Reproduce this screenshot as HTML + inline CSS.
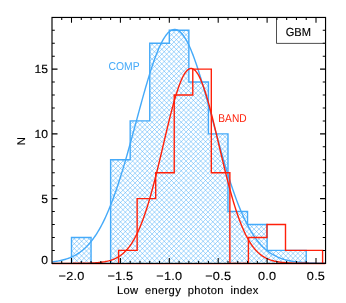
<!DOCTYPE html>
<html><head><meta charset="utf-8"><title>plot</title><style>html,body{margin:0;padding:0;background:#fff;overflow:hidden}text{font-family:"Liberation Sans",sans-serif;text-rendering:geometricPrecision;stroke-width:0.14px}text.k{stroke:#000}</style></head><body>
<svg width="346" height="303" viewBox="0 0 346 303" style="display:block;will-change:transform">
<defs><clipPath id="clip"><rect x="52.0" y="17.45" width="273.55" height="247.45"/></clipPath><clipPath id="hclip"><path d="M71.50,263.35 L71.50,237.45 L91.06,237.45 L91.06,263.35 L110.62,263.35 L110.62,159.75 L130.18,159.75 L130.18,120.90 L149.74,120.90 L149.74,43.20 L169.30,43.20 L169.30,30.25 L188.86,30.25 L188.86,82.05 L208.42,82.05 L208.42,133.85 L227.98,133.85 L227.98,211.55 L247.54,211.55 L247.54,224.50 L267.10,224.50 L267.10,250.40 L286.66,250.40 L286.66,250.40 L306.22,250.40 L306.22,263.35 Z"/></clipPath></defs>
<rect width="346" height="303" fill="#fff"/>
<g clip-path="url(#hclip)"><path d="M70,-207.72L308,30.28M70,-202.86L308,35.14M70,-198.00L308,40.00M70,-193.14L308,44.86M70,-188.28L308,49.72M70,-183.42L308,54.58M70,-178.56L308,59.44M70,-173.70L308,64.30M70,-168.84L308,69.16M70,-163.98L308,74.02M70,-159.12L308,78.88M70,-154.26L308,83.74M70,-149.40L308,88.60M70,-144.54L308,93.46M70,-139.68L308,98.32M70,-134.82L308,103.18M70,-129.96L308,108.04M70,-125.10L308,112.90M70,-120.24L308,117.76M70,-115.38L308,122.62M70,-110.52L308,127.48M70,-105.66L308,132.34M70,-100.80L308,137.20M70,-95.94L308,142.06M70,-91.08L308,146.92M70,-86.22L308,151.78M70,-81.36L308,156.64M70,-76.50L308,161.50M70,-71.64L308,166.36M70,-66.78L308,171.22M70,-61.92L308,176.08M70,-57.06L308,180.94M70,-52.20L308,185.80M70,-47.34L308,190.66M70,-42.48L308,195.52M70,-37.62L308,200.38M70,-32.76L308,205.24M70,-27.90L308,210.10M70,-23.04L308,214.96M70,-18.18L308,219.82M70,-13.32L308,224.68M70,-8.46L308,229.54M70,-3.60L308,234.40M70,1.26L308,239.26M70,6.12L308,244.12M70,10.98L308,248.98M70,15.84L308,253.84M70,20.70L308,258.70M70,25.56L308,263.56M70,30.42L308,268.42M70,35.28L308,273.28M70,40.14L308,278.14M70,45.00L308,283.00M70,49.86L308,287.86M70,54.72L308,292.72M70,59.58L308,297.58M70,64.44L308,302.44M70,69.30L308,307.30M70,74.16L308,312.16M70,79.02L308,317.02M70,83.88L308,321.88M70,88.74L308,326.74M70,93.60L308,331.60M70,98.46L308,336.46M70,103.32L308,341.32M70,108.18L308,346.18M70,113.04L308,351.04M70,117.90L308,355.90M70,122.76L308,360.76M70,127.62L308,365.62M70,132.48L308,370.48M70,137.34L308,375.34M70,142.20L308,380.20M70,147.06L308,385.06M70,151.92L308,389.92M70,156.78L308,394.78M70,161.64L308,399.64M70,166.50L308,404.50M70,171.36L308,409.36M70,176.22L308,414.22M70,181.08L308,419.08M70,185.94L308,423.94M70,190.80L308,428.80M70,195.66L308,433.66M70,200.52L308,438.52M70,205.38L308,443.38M70,210.24L308,448.24M70,215.10L308,453.10M70,219.96L308,457.96M70,224.82L308,462.82M70,229.68L308,467.68M70,234.54L308,472.54M70,239.40L308,477.40M70,244.26L308,482.26M70,249.12L308,487.12M70,253.98L308,491.98M70,258.84L308,496.84M70,263.70L308,501.70M70,29.32L308,-208.68M70,34.18L308,-203.82M70,39.04L308,-198.96M70,43.90L308,-194.10M70,48.76L308,-189.24M70,53.62L308,-184.38M70,58.48L308,-179.52M70,63.34L308,-174.66M70,68.20L308,-169.80M70,73.06L308,-164.94M70,77.92L308,-160.08M70,82.78L308,-155.22M70,87.64L308,-150.36M70,92.50L308,-145.50M70,97.36L308,-140.64M70,102.22L308,-135.78M70,107.08L308,-130.92M70,111.94L308,-126.06M70,116.80L308,-121.20M70,121.66L308,-116.34M70,126.52L308,-111.48M70,131.38L308,-106.62M70,136.24L308,-101.76M70,141.10L308,-96.90M70,145.96L308,-92.04M70,150.82L308,-87.18M70,155.68L308,-82.32M70,160.54L308,-77.46M70,165.40L308,-72.60M70,170.26L308,-67.74M70,175.12L308,-62.88M70,179.98L308,-58.02M70,184.84L308,-53.16M70,189.70L308,-48.30M70,194.56L308,-43.44M70,199.42L308,-38.58M70,204.28L308,-33.72M70,209.14L308,-28.86M70,214.00L308,-24.00M70,218.86L308,-19.14M70,223.72L308,-14.28M70,228.58L308,-9.42M70,233.44L308,-4.56M70,238.30L308,0.30M70,243.16L308,5.16M70,248.02L308,10.02M70,252.88L308,14.88M70,257.74L308,19.74M70,262.60L308,24.60M70,267.46L308,29.46M70,272.32L308,34.32M70,277.18L308,39.18M70,282.04L308,44.04M70,286.90L308,48.90M70,291.76L308,53.76M70,296.62L308,58.62M70,301.48L308,63.48M70,306.34L308,68.34M70,311.20L308,73.20M70,316.06L308,78.06M70,320.92L308,82.92M70,325.78L308,87.78M70,330.64L308,92.64M70,335.50L308,97.50M70,340.36L308,102.36M70,345.22L308,107.22M70,350.08L308,112.08M70,354.94L308,116.94M70,359.80L308,121.80M70,364.66L308,126.66M70,369.52L308,131.52M70,374.38L308,136.38M70,379.24L308,141.24M70,384.10L308,146.10M70,388.96L308,150.96M70,393.82L308,155.82M70,398.68L308,160.68M70,403.54L308,165.54M70,408.40L308,170.40M70,413.26L308,175.26M70,418.12L308,180.12M70,422.98L308,184.98M70,427.84L308,189.84M70,432.70L308,194.70M70,437.56L308,199.56M70,442.42L308,204.42M70,447.28L308,209.28M70,452.14L308,214.14M70,457.00L308,219.00M70,461.86L308,223.86M70,466.72L308,228.72M70,471.58L308,233.58M70,476.44L308,238.44M70,481.30L308,243.30M70,486.16L308,248.16M70,491.02L308,253.02M70,495.88L308,257.88M70,500.74L308,262.74" stroke="#45aaf9" stroke-width="0.5" fill="none"/></g>
<g clip-path="url(#clip)">
<path d="M71.50,263.35 L71.50,237.45 L91.06,237.45 L91.06,263.35 L110.62,263.35 L110.62,159.75 L130.18,159.75 L130.18,120.90 L149.74,120.90 L149.74,43.20 L169.30,43.20 L169.30,30.25 L188.86,30.25 L188.86,82.05 L208.42,82.05 L208.42,133.85 L227.98,133.85 L227.98,211.55 L247.54,211.55 L247.54,224.50 L267.10,224.50 L267.10,250.40 L286.66,250.40 L286.66,250.40 L306.22,250.40 L306.22,263.35" fill="none" stroke="#45aaf9" stroke-width="1.4" stroke-linejoin="miter"/>
<polyline points="51.94,261.95 52.92,261.83 53.90,261.70 54.87,261.56 55.85,261.42 56.83,261.26 57.81,261.09 58.79,260.91 59.76,260.71 60.74,260.50 61.72,260.28 62.70,260.04 63.68,259.79 64.65,259.52 65.63,259.23 66.61,258.92 67.59,258.59 68.57,258.24 69.54,257.87 70.52,257.47 71.50,257.05 72.48,256.61 73.46,256.14 74.43,255.64 75.41,255.11 76.39,254.55 77.37,253.96 78.35,253.33 79.32,252.67 80.30,251.98 81.28,251.25 82.26,250.48 83.24,249.67 84.21,248.81 85.19,247.92 86.17,246.98 87.15,245.99 88.13,244.96 89.10,243.87 90.08,242.74 91.06,241.55 92.04,240.32 93.02,239.02 93.99,237.68 94.97,236.27 95.95,234.81 96.93,233.28 97.91,231.70 98.88,230.05 99.86,228.34 100.84,226.57 101.82,224.73 102.80,222.83 103.77,220.86 104.75,218.83 105.73,216.73 106.71,214.56 107.69,212.32 108.66,210.01 109.64,207.64 110.62,205.20 111.60,202.69 112.58,200.11 113.55,197.47 114.53,194.76 115.51,191.99 116.49,189.15 117.47,186.25 118.44,183.29 119.42,180.27 120.40,177.20 121.38,174.06 122.36,170.87 123.33,167.64 124.31,164.35 125.29,161.01 126.27,157.64 127.25,154.22 128.22,150.76 129.20,147.27 130.18,143.75 131.16,140.21 132.14,136.64 133.11,133.05 134.09,129.45 135.07,125.84 136.05,122.22 137.03,118.60 138.00,114.99 138.98,111.38 139.96,107.79 140.94,104.22 141.92,100.67 142.89,97.15 143.87,93.66 144.85,90.21 145.83,86.81 146.81,83.46 147.78,80.16 148.76,76.93 149.74,73.76 150.72,70.66 151.70,67.64 152.67,64.70 153.65,61.85 154.63,59.09 155.61,56.43 156.59,53.87 157.56,51.41 158.54,49.07 159.52,46.84 160.50,44.73 161.48,42.75 162.45,40.89 163.43,39.16 164.41,37.56 165.39,36.10 166.37,34.78 167.34,33.60 168.32,32.57 169.30,31.68 170.28,30.94 171.26,30.35 172.23,29.91 173.21,29.62 174.19,29.49 175.17,29.50 176.15,29.67 177.12,29.99 178.10,30.46 179.08,31.08 180.06,31.85 181.04,32.76 182.01,33.83 182.99,35.03 183.97,36.38 184.95,37.87 185.93,39.49 186.90,41.25 187.88,43.13 188.86,45.14 189.84,47.28 190.82,49.53 191.79,51.90 192.77,54.37 193.75,56.95 194.73,59.64 195.71,62.41 196.68,65.28 197.66,68.24 198.64,71.28 199.62,74.39 200.60,77.57 201.57,80.82 202.55,84.12 203.53,87.49 204.51,90.90 205.49,94.35 206.46,97.85 207.44,101.37 208.42,104.93 209.40,108.51 210.38,112.10 211.35,115.71 212.33,119.33 213.31,122.94 214.29,126.56 215.27,130.17 216.24,133.77 217.22,137.35 218.20,140.92 219.18,144.46 220.16,147.97 221.13,151.46 222.11,154.90 223.09,158.31 224.07,161.68 225.05,165.01 226.02,168.29 227.00,171.52 227.98,174.69 228.96,177.82 229.94,180.88 230.91,183.89 231.89,186.84 232.87,189.73 233.85,192.55 234.83,195.31 235.80,198.00 236.78,200.63 237.76,203.20 238.74,205.69 239.72,208.12 240.69,210.48 241.67,212.77 242.65,214.99 243.63,217.15 244.61,219.24 245.58,221.26 246.56,223.22 247.54,225.11 248.52,226.93 249.50,228.69 250.47,230.39 251.45,232.02 252.43,233.59 253.41,235.10 254.39,236.56 255.36,237.95 256.34,239.29 257.32,240.57 258.30,241.80 259.28,242.97 260.25,244.09 261.23,245.17 262.21,246.19 263.19,247.17 264.17,248.10 265.14,248.99 266.12,249.83 267.10,250.63 268.08,251.40 269.06,252.12 270.03,252.81 271.01,253.46 271.99,254.08 272.97,254.66 273.95,255.22 274.92,255.74 275.90,256.23 276.88,256.70 277.86,257.14 278.84,257.55 279.81,257.94 280.79,258.31 281.77,258.66 282.75,258.98 283.73,259.29 284.70,259.57 285.68,259.84 286.66,260.09 287.64,260.33 288.62,260.55 289.59,260.75 290.57,260.94 291.55,261.12 292.53,261.29 293.51,261.45 294.48,261.59 295.46,261.73 296.44,261.85 297.42,261.97 298.40,262.08 299.37,262.18 300.35,262.27 301.33,262.36 302.31,262.44 303.29,262.52 304.26,262.58 305.24,262.65 306.22,262.71 307.20,262.76 308.18,262.81 309.15,262.86 310.13,262.90 311.11,262.94 312.09,262.97 313.07,263.01 314.04,263.04 315.02,263.06 316.00,263.09 316.98,263.11 317.96,263.14 318.93,263.15 319.91,263.17 320.89,263.19 321.87,263.20 322.85,263.22 323.82,263.23 324.80,263.24 325.78,263.25" fill="none" stroke="#45aaf9" stroke-width="1.4" stroke-linejoin="round"/>
<path d="M118.60,263.35 L118.60,250.40 L137.14,250.40 L137.14,198.60 L155.69,198.60 L155.69,172.70 L174.24,172.70 L174.24,95.00 L192.78,95.00 L192.78,69.10 L211.32,69.10 L211.32,172.70 L229.87,172.70 L229.87,263.35 L248.41,263.35 L248.41,237.45 L266.96,237.45 L266.96,224.50 L285.50,224.50 L285.50,250.40 L304.05,250.40 L304.05,250.40 L322.60,250.40 L322.60,263.35" fill="none" stroke="#ff200a" stroke-width="1.4" stroke-linejoin="miter"/>
<path d="M52.0,263.6 L325.55,263.6" stroke="#ff200a" stroke-width="1.4"/>
<polyline points="51.94,263.35 52.92,263.35 53.90,263.35 54.87,263.35 55.85,263.35 56.83,263.35 57.81,263.35 58.79,263.35 59.76,263.35 60.74,263.35 61.72,263.35 62.70,263.35 63.68,263.34 64.65,263.34 65.63,263.34 66.61,263.34 67.59,263.34 68.57,263.34 69.54,263.34 70.52,263.33 71.50,263.33 72.48,263.33 73.46,263.32 74.43,263.32 75.41,263.31 76.39,263.31 77.37,263.30 78.35,263.30 79.32,263.29 80.30,263.28 81.28,263.27 82.26,263.25 83.24,263.24 84.21,263.23 85.19,263.21 86.17,263.19 87.15,263.16 88.13,263.14 89.10,263.11 90.08,263.08 91.06,263.04 92.04,263.00 93.02,262.95 93.99,262.90 94.97,262.84 95.95,262.78 96.93,262.70 97.91,262.62 98.88,262.53 99.86,262.43 100.84,262.32 101.82,262.20 102.80,262.06 103.77,261.91 104.75,261.75 105.73,261.56 106.71,261.36 107.69,261.14 108.66,260.90 109.64,260.63 110.62,260.34 111.60,260.02 112.58,259.67 113.55,259.29 114.53,258.88 115.51,258.43 116.49,257.94 117.47,257.41 118.44,256.83 119.42,256.21 120.40,255.55 121.38,254.82 122.36,254.05 123.33,253.21 124.31,252.32 125.29,251.36 126.27,250.33 127.25,249.23 128.22,248.06 129.20,246.81 130.18,245.48 131.16,244.06 132.14,242.57 133.11,240.98 134.09,239.30 135.07,237.52 136.05,235.65 137.03,233.68 138.00,231.61 138.98,229.44 139.96,227.16 140.94,224.78 141.92,222.29 142.89,219.69 143.87,216.99 144.85,214.18 145.83,211.27 146.81,208.24 147.78,205.12 148.76,201.89 149.74,198.57 150.72,195.15 151.70,191.63 152.67,188.03 153.65,184.35 154.63,180.58 155.61,176.75 156.59,172.84 157.56,168.88 158.54,164.87 159.52,160.81 160.50,156.72 161.48,152.59 162.45,148.46 163.43,144.31 164.41,140.16 165.39,136.03 166.37,131.92 167.34,127.85 168.32,123.82 169.30,119.85 170.28,115.94 171.26,112.12 172.23,108.39 173.21,104.76 174.19,101.25 175.17,97.86 176.15,94.61 177.12,91.50 178.10,88.56 179.08,85.78 180.06,83.19 181.04,80.77 182.01,78.56 182.99,76.54 183.97,74.74 184.95,73.16 185.93,71.79 186.90,70.66 187.88,69.75 188.86,69.09 189.84,68.66 190.82,68.46 191.79,68.51 192.77,68.80 193.75,69.33 194.73,70.09 195.71,71.08 196.68,72.31 197.66,73.76 198.64,75.44 199.62,77.33 200.60,79.42 201.57,81.72 202.55,84.20 203.53,86.87 204.51,89.72 205.49,92.73 206.46,95.89 207.44,99.20 208.42,102.64 209.40,106.20 210.38,109.87 211.35,113.64 212.33,117.50 213.31,121.43 214.29,125.42 215.27,129.47 216.24,133.56 217.22,137.68 218.20,141.82 219.18,145.97 220.16,150.11 221.13,154.25 222.11,158.36 223.09,162.44 224.07,166.48 225.05,170.47 226.02,174.41 227.00,178.29 227.98,182.10 228.96,185.83 229.94,189.48 230.91,193.05 231.89,196.53 232.87,199.91 233.85,203.20 234.83,206.38 235.80,209.46 236.78,212.44 237.76,215.32 238.74,218.09 239.72,220.75 240.69,223.30 241.67,225.75 242.65,228.09 243.63,230.32 244.61,232.45 245.58,234.48 246.56,236.41 247.54,238.25 248.52,239.98 249.50,241.62 250.47,243.18 251.45,244.64 252.43,246.02 253.41,247.32 254.39,248.54 255.36,249.68 256.34,250.75 257.32,251.75 258.30,252.68 259.28,253.55 260.25,254.37 261.23,255.12 262.21,255.82 263.19,256.47 264.17,257.07 265.14,257.62 266.12,258.14 267.10,258.61 268.08,259.04 269.06,259.44 270.03,259.81 271.01,260.15 271.99,260.46 272.97,260.74 273.95,261.00 274.92,261.23 275.90,261.44 276.88,261.64 277.86,261.81 278.84,261.97 279.81,262.12 280.79,262.25 281.77,262.37 282.75,262.47 283.73,262.57 284.70,262.66 285.68,262.73 286.66,262.80 287.64,262.87 288.62,262.92 289.59,262.97 290.57,263.02 291.55,263.05 292.53,263.09 293.51,263.12 294.48,263.15 295.46,263.17 296.44,263.20 297.42,263.21 298.40,263.23 299.37,263.25 300.35,263.26 301.33,263.27 302.31,263.28 303.29,263.29 304.26,263.30 305.24,263.31 306.22,263.31 307.20,263.32 308.18,263.32 309.15,263.33 310.13,263.33 311.11,263.33 312.09,263.33 313.07,263.34 314.04,263.34 315.02,263.34 316.00,263.34 316.98,263.34 317.96,263.34 318.93,263.34 319.91,263.35 320.89,263.35 321.87,263.35 322.85,263.35 323.82,263.35 324.80,263.35 325.78,263.35" fill="none" stroke="#ff200a" stroke-width="1.4" stroke-linejoin="round"/>
</g>
<rect x="52.0" y="17.45" width="273.55" height="245.95" fill="none" stroke="#000" stroke-width="1.15"/>
<path d="M61.72,263.4v-2.5M61.72,17.45v2.5M71.50,263.4v-5.3M71.50,17.45v5.3M81.28,263.4v-2.5M81.28,17.45v2.5M91.06,263.4v-2.5M91.06,17.45v2.5M100.84,263.4v-2.5M100.84,17.45v2.5M110.62,263.4v-2.5M110.62,17.45v2.5M120.40,263.4v-5.3M120.40,17.45v5.3M130.18,263.4v-2.5M130.18,17.45v2.5M139.96,263.4v-2.5M139.96,17.45v2.5M149.74,263.4v-2.5M149.74,17.45v2.5M159.52,263.4v-2.5M159.52,17.45v2.5M169.30,263.4v-5.3M169.30,17.45v5.3M179.08,263.4v-2.5M179.08,17.45v2.5M188.86,263.4v-2.5M188.86,17.45v2.5M198.64,263.4v-2.5M198.64,17.45v2.5M208.42,263.4v-2.5M208.42,17.45v2.5M218.20,263.4v-5.3M218.20,17.45v5.3M227.98,263.4v-2.5M227.98,17.45v2.5M237.76,263.4v-2.5M237.76,17.45v2.5M247.54,263.4v-2.5M247.54,17.45v2.5M257.32,263.4v-2.5M257.32,17.45v2.5M267.10,263.4v-5.3M267.10,17.45v5.3M276.88,263.4v-2.5M276.88,17.45v2.5M286.66,263.4v-2.5M286.66,17.45v2.5M296.44,263.4v-2.5M296.44,17.45v2.5M306.22,263.4v-2.5M306.22,17.45v2.5M316.00,263.4v-5.3M316.00,17.45v5.3M52.0,250.40h2.8M325.55,250.40h-2.8M52.0,237.45h2.8M325.55,237.45h-2.8M52.0,224.50h2.8M325.55,224.50h-2.8M52.0,211.55h2.8M325.55,211.55h-2.8M52.0,198.60h5.5M325.55,198.60h-5.5M52.0,185.65h2.8M325.55,185.65h-2.8M52.0,172.70h2.8M325.55,172.70h-2.8M52.0,159.75h2.8M325.55,159.75h-2.8M52.0,146.80h2.8M325.55,146.80h-2.8M52.0,133.85h5.5M325.55,133.85h-5.5M52.0,120.90h2.8M325.55,120.90h-2.8M52.0,107.95h2.8M325.55,107.95h-2.8M52.0,95.00h2.8M325.55,95.00h-2.8M52.0,82.05h2.8M325.55,82.05h-2.8M52.0,69.10h5.5M325.55,69.10h-5.5M52.0,56.15h2.8M325.55,56.15h-2.8M52.0,43.20h2.8M325.55,43.20h-2.8M52.0,30.25h2.8M325.55,30.25h-2.8" stroke="#000" stroke-width="1.05" fill="none"/>
<path d="M276.5,17.45 V43.4 H325.55" fill="none" stroke="#222" stroke-width="0.8"/>
<text transform="translate(298.35,36.3) scale(0.95,1)" text-anchor="middle"  font-size="11.7" fill="#000"  class="k">GBM</text>
<text transform="translate(124,69.7) scale(0.91,1)" text-anchor="middle"  font-size="11.4" fill="#45aaf9" >COMP</text>
<text transform="translate(232.45,121.7) scale(0.9,1)" text-anchor="middle"  font-size="11.3" fill="#ff200a" >BAND</text>
<text transform="translate(48.3,263.75) scale(1.03,1)" text-anchor="end"  font-size="11.75" fill="#000" letter-spacing="0.2" class="k">0</text>
<text transform="translate(48.3,202.85) scale(1.03,1)" text-anchor="end"  font-size="11.75" fill="#000" letter-spacing="0.2" class="k">5</text>
<text transform="translate(48.3,138.1) scale(1.03,1)" text-anchor="end"  font-size="11.75" fill="#000" letter-spacing="0.2" class="k">10</text>
<text transform="translate(48.3,73.35) scale(1.03,1)" text-anchor="end"  font-size="11.75" fill="#000" letter-spacing="0.2" class="k">15</text>
<text transform="translate(71.5,280.1) scale(1.08,1)" text-anchor="middle"  font-size="11.75" fill="#000" letter-spacing="0.2" class="k">−2.0</text>
<text transform="translate(120.4,280.1) scale(1.08,1)" text-anchor="middle"  font-size="11.75" fill="#000" letter-spacing="0.2" class="k">−1.5</text>
<text transform="translate(169.3,280.1) scale(1.08,1)" text-anchor="middle"  font-size="11.75" fill="#000" letter-spacing="0.2" class="k">−1.0</text>
<text transform="translate(218.2,280.1) scale(1.08,1)" text-anchor="middle"  font-size="11.75" fill="#000" letter-spacing="0.2" class="k">−0.5</text>
<text transform="translate(267.1,280.1) scale(1.08,1)" text-anchor="middle"  font-size="11.75" fill="#000" letter-spacing="0.2" class="k">0.0</text>
<text transform="translate(316.0,280.1) scale(1.08,1)" text-anchor="middle"  font-size="11.75" fill="#000" letter-spacing="0.2" class="k">0.5</text>
<text transform="translate(187.8,293.7) scale(1.0,1)" text-anchor="middle"  font-size="11.2" fill="#000" word-spacing="3.3" letter-spacing="0.3" class="k">Low energy photon index</text>
<text transform="translate(24.7,141.2) rotate(-90)" text-anchor="middle" class="k" font-size="11.2" fill="#000">N</text>
</svg>
</body></html>
